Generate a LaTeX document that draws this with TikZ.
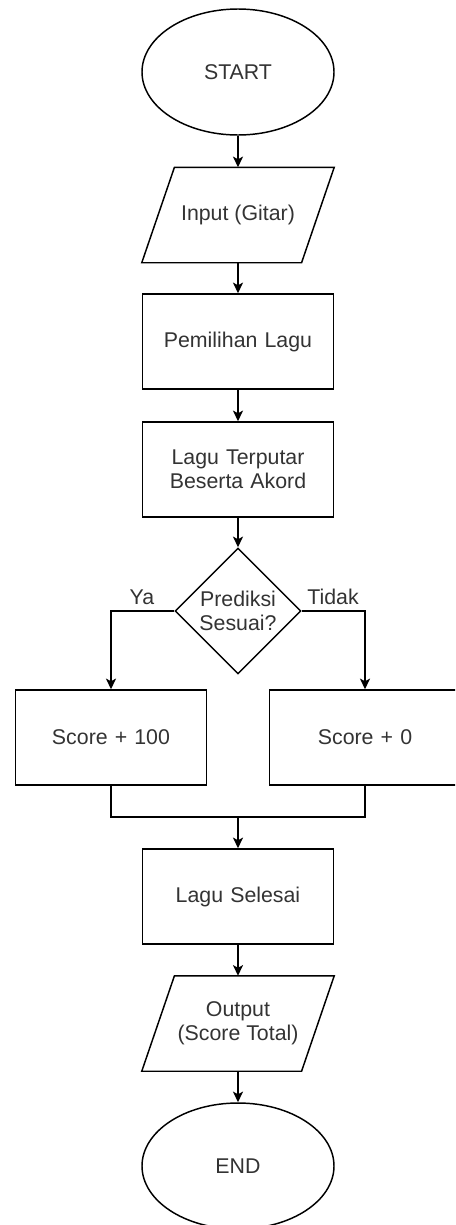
\documentclass[tikz,border=0pt]{standalone}
\usepackage{fontspec}
\setmainfont{Liberation Sans}
\usetikzlibrary{shapes.geometric, arrows.meta}

\begin{document}
\begin{tikzpicture}[x=0.75pt, y=-0.75pt, line width=1.1pt, >={Stealth[length=8pt, width=7.5pt, inset=2pt]},
    every node/.style = {text=black!80, font=\fontsize{16}{18}\selectfont},
    terminal/.style = {ellipse, draw=black, minimum width=144pt, minimum height=94.5pt, inner sep=0pt},
    block/.style = {rectangle, draw=black, text width=130pt, align=center, minimum width=143.25pt, minimum height=71.25pt, inner sep=0pt},
    io/.style = {rectangle, align=center, minimum width=143.25pt, minimum height=70.5pt, inner sep=0pt,
        append after command={[draw=black] ([xshift=24.5pt]\tikzlastnode.north west) -- (\tikzlastnode.north east)
            -- ([xshift=-24.5pt]\tikzlastnode.south east) -- (\tikzlastnode.south west) -- cycle}},
    decision/.style = {diamond, aspect=1, draw=black, align=center, minimum size=94.5pt, inner sep=0pt}]
        \useasboundingbox (0, 0) rectangle (455, 1225);
        \clip (0, 0) rectangle (455, 1225);

        \draw (238, 72) node[terminal] (start) {START};
        \draw (238, 215) node[io] (input) {Input (Gitar)};
        \draw (238, 341.5) node[block] (pilih) {Pemilihan Lagu};
        \draw (238, 469.5) node[block] (putar) {Lagu Terputar\\Beserta Akord};
        \draw (238, 611) node[decision] (sesuai) {Prediksi\\Sesuai?};
        \draw (111, 737.5) node[block] (plusseratus) {Score + 100};
        \draw (365, 737.5) node[block] (plusnol) {Score + 0};
        \draw (238, 896.5) node[block] (selesai) {Lagu Selesai};
        \draw (238, 1023.5) node[io] (output) {Output\\(Score Total)};
        \draw (238, 1166) node[terminal] (end) {END};

        \draw (142, 597) node (ya) {Ya};
        \draw (333, 597) node (tidak) {Tidak};
        \coordinate (gabung) at (238, 817);

        \draw[->] (start) -- (input);
        \draw[->] (input) -- (pilih);
        \draw[->] (pilih) -- (putar);
        \draw[->] (putar) -- (sesuai);
        \draw[->] (sesuai.west) -| (plusseratus);
        \draw[->] (sesuai.east) -| (plusnol);
        \draw (plusseratus.south) |- (gabung) -| (plusnol.south);
        \draw[->] (gabung) -- (selesai);
        \draw[->] (selesai) -- (output);
        \draw[->] (output) -- (end);
      \end{tikzpicture}
\end{document}
